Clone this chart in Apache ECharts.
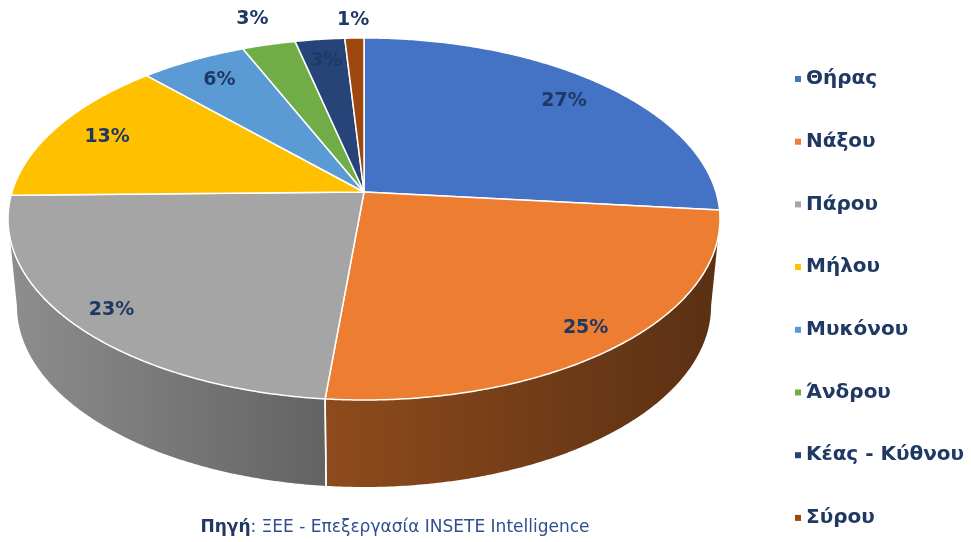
<!DOCTYPE html>
<html>
<head>
<meta charset="utf-8">
<script src="https://cdn.jsdelivr.net/npm/echarts@6/dist/echarts.min.js"></script>
<style>
  html, body { margin: 0; padding: 0; background: #ffffff; }
  #chart { width: 971px; height: 542px; }
</style>
</head>
<body>
<div id="chart"></div>
<script>
// Island shares of the Cyclades (per cent)
const categories = ['Θήρας', 'Νάξου', 'Πάρου', 'Μήλου', 'Μυκόνου', 'Άνδρου', 'Κέας - Κύθνου', 'Σύρου'];
const shares = [26.6, 24.9, 23.2, 13.3, 5.6, 2.8, 2.6, 1.0];
const colors = ['#4472C4', '#ED7D31', '#A5A5A5', '#FFC000', '#5B9BD5', '#70AD47', '#264478', '#9E480E'];
const sourceLabel = 'Πηγή';
const sourceText = ': ΞΕΕ - Επεξεργασία INSETE Intelligence';

// Label distance from the centre, as a fraction of the radius
const labelRadius = [0.83, 0.89, 0.89, 0.83, 0.83, 1.2, 0.84, 1.14];

// Tilted disc geometry (perspective)
const CX = 364, CY = 192, RX = 352, RY = 177, DEPTH = 6.71;
const WALL = 87, WALL_SHRINK = 0.975;
const TEXT = '#1F3864';
const FONT = '"DejaVu Sans", Verdana, sans-serif';

const total = shares.reduce((a, b) => a + b, 0);
const starts = [];
shares.reduce((acc, v, i) => { starts[i] = acc; return acc + v; }, 0);

const rad = d => d * Math.PI / 180;
function proj(theta, r) {
  const t = rad(theta);
  const z = r * Math.sin(t);
  const s = DEPTH / (DEPTH - z);
  return [CX + RX * r * Math.cos(t) * s, CY + RY * r * Math.sin(t) * s];
}
function lower(p) {
  return [CX + (p[0] - CX) * WALL_SHRINK, p[1] + WALL];
}
function arc(a0, a1) {
  const pts = [];
  const n = Math.max(2, Math.ceil(Math.abs(a1 - a0) / 0.5));
  for (let k = 0; k <= n; k++) pts.push(proj(a0 + (a1 - a0) * k / n, 1));
  return pts;
}
function shade(hex, f) {
  const n = parseInt(hex.slice(1), 16);
  const r = Math.round(((n >> 16) & 255) * f);
  const g = Math.round(((n >> 8) & 255) * f);
  const b = Math.round((n & 255) * f);
  return 'rgb(' + r + ',' + g + ',' + b + ')';
}
function wallFill(hex) {
  const x0 = 8, x1 = 720, w = x1 - x0;
  return {
    type: 'linear', x: x0, y: 0, x2: x1, y2: 0, global: true,
    colorStops: [
      { offset: 0, color: shade(hex, 0.86) },
      { offset: (100 - x0) / w, color: shade(hex, 0.78) },
      { offset: (325 - x0) / w, color: shade(hex, 0.6) },
      { offset: 1, color: shade(hex, 0.38) }
    ]
  };
}

// The visible side wall lies between the two silhouette angles
const SIL = Math.asin(1 / DEPTH) * 180 / Math.PI;
const FRONT_A = SIL, FRONT_B = 180 - SIL;

function makeRender(i) {
  return function (params, api) {
    const v = api.value(0);
    const a0 = -90 + starts[i] / total * 360;
    const a1 = a0 + v / total * 360;
    const children = [];

    // side wall
    const w0 = Math.max(a0, FRONT_A), w1 = Math.min(a1, FRONT_B);
    if (w1 > w0) {
      const topEdge = arc(w0, w1);
      const botEdge = topEdge.map(lower).reverse();
      children.push({
        type: 'polygon', z2: 1,
        shape: { points: topEdge.concat(botEdge) },
        style: { fill: wallFill(colors[i]) }
      });
      [a0, a1].forEach(a => {
        if (a > FRONT_A && a < FRONT_B) {
          const p = proj(a, 1), q = lower(p);
          children.push({
            type: 'line', z2: 2,
            shape: { x1: p[0], y1: p[1], x2: q[0], y2: q[1] },
            style: { stroke: '#ffffff', lineWidth: 1.5 }
          });
        }
      });
    }

    // top face
    children.push({
      type: 'polygon', z2: 10,
      shape: { points: [[CX, CY]].concat(arc(a0, a1)) },
      style: { fill: colors[i], stroke: '#ffffff', lineWidth: 1.5, lineJoin: 'round' }
    });

    // percentage label
    const lp = proj((a0 + a1) / 2, labelRadius[i]);
    children.push({
      type: 'text', z2: 20, x: lp[0], y: lp[1],
      style: {
        text: Math.round(v / total * 100) + '%',
        fill: TEXT, font: 'bold 19px ' + FONT,
        align: 'center', verticalAlign: 'middle'
      }
    });

    return { type: 'group', children: children };
  };
}

const series = categories.map((name, i) => ({
  type: 'custom',
  name: name,
  coordinateSystem: 'none',
  itemStyle: { color: colors[i] },
  data: [[shares[i]]],
  renderItem: makeRender(i)
}));

const chart = echarts.init(document.getElementById('chart'), null, { renderer: 'canvas' });
chart.setOption({
  animation: false,
  color: colors,
  legend: {
    orient: 'vertical',
    left: 790,
    top: 64,
    icon: 'rect',
    itemWidth: 6,
    itemHeight: 6,
    itemGap: 42.7,
    selectedMode: false,
    data: categories,
    textStyle: { fontFamily: FONT, fontWeight: 'bold', fontSize: 20, lineHeight: 20, color: TEXT }
  },
  graphic: [{
    type: 'text',
    x: 395, y: 528,
    style: {
      text: '{b|' + sourceLabel + '}{r|' + sourceText + '}',
      align: 'center', verticalAlign: 'middle',
      rich: {
        b: { fontFamily: FONT, fontWeight: 'bold', fontSize: 17, fill: TEXT, color: TEXT },
        r: { fontFamily: FONT, fontSize: 17, fill: '#2F4F8F', color: '#2F4F8F' }
      }
    }
  }],
  series: series
});
</script>
</body>
</html>
